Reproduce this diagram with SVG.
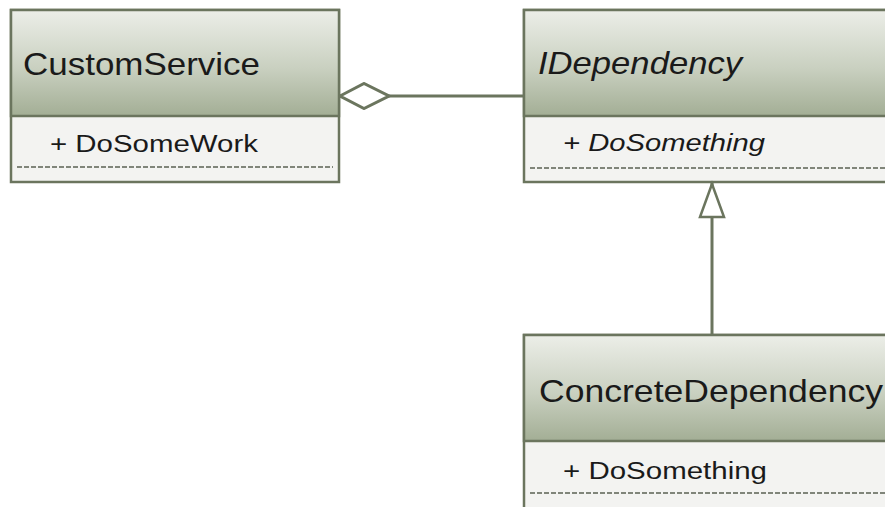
<svg xmlns="http://www.w3.org/2000/svg" width="885" height="507" viewBox="0 0 885 507">
<defs>
<linearGradient id="hdr" x1="0" y1="0" x2="0" y2="1">
<stop offset="0" stop-color="#eceee8"/>
<stop offset="0.55" stop-color="#c9d0c0"/>
<stop offset="1" stop-color="#a3ae95"/>
</linearGradient>
<marker id="diamond" markerWidth="52" markerHeight="28" refX="1" refY="14" orient="auto" markerUnits="userSpaceOnUse">
<path d="M1,14 L25,1.5 L50,14 L25,26.5 Z" fill="#ffffff" stroke="#6b755e" stroke-width="3"/>
</marker>
</defs>
<style>
.box{fill:#f3f3f1;stroke:#6b755e;stroke-width:2.5}
.head{fill:url(#hdr);stroke:#6b755e;stroke-width:2.5}
.dash{stroke:#80857a;stroke-width:2;stroke-dasharray:5,2}
.title{font-family:"Liberation Sans",Arial,sans-serif;font-size:32px;fill:#1a1a1a}
.op{font-family:"Liberation Sans",Arial,sans-serif;font-size:23px;fill:#1a1a1a}
.it{font-style:italic}
.conn{stroke:#6b755e;stroke-width:3;fill:none}
</style>
<rect width="885" height="507" fill="#ffffff"/>
<g id="CustomService">
<rect class="box" x="11" y="10" width="328" height="172"/>
<rect class="head" x="11" y="10" width="328" height="106"/>
<text class="title" x="23" y="75" textLength="237" lengthAdjust="spacingAndGlyphs">CustomService</text>
<text class="op" x="50" y="152" textLength="208" lengthAdjust="spacingAndGlyphs">+ DoSomeWork</text>
<line class="dash" x1="17" y1="167" x2="333" y2="167"/>
</g>
<g id="IDependency">
<rect class="box" x="524" y="10" width="380" height="172"/>
<rect class="head" x="524" y="10" width="380" height="106"/>
<text class="title it" x="538" y="74" textLength="204" lengthAdjust="spacingAndGlyphs">IDependency</text>
<text class="op it" x="563" y="151" textLength="202" lengthAdjust="spacingAndGlyphs">+ DoSomething</text>
<line class="dash" x1="530" y1="168" x2="885" y2="168"/>
</g>
<g id="ConcreteDependency">
<rect class="box" x="524" y="335" width="380" height="190"/>
<rect class="head" x="524" y="335" width="380" height="106"/>
<text class="title" x="539" y="402" textLength="344" lengthAdjust="spacingAndGlyphs">ConcreteDependency</text>
<text class="op" x="563" y="479" textLength="204" lengthAdjust="spacingAndGlyphs">+ DoSomething</text>
<line class="dash" x1="530" y1="493" x2="885" y2="493"/>
</g>
<g id="connectors">
<line class="conn" x1="340" y1="96" x2="524" y2="96" marker-start="url(#diamond)"/>
<line class="conn" x1="712" y1="335" x2="712" y2="182"/>
<path d="M712,184 L724,217 L700,217 Z" fill="#ffffff" stroke="#6b755e" stroke-width="2.5"/>
</g>
</svg>
